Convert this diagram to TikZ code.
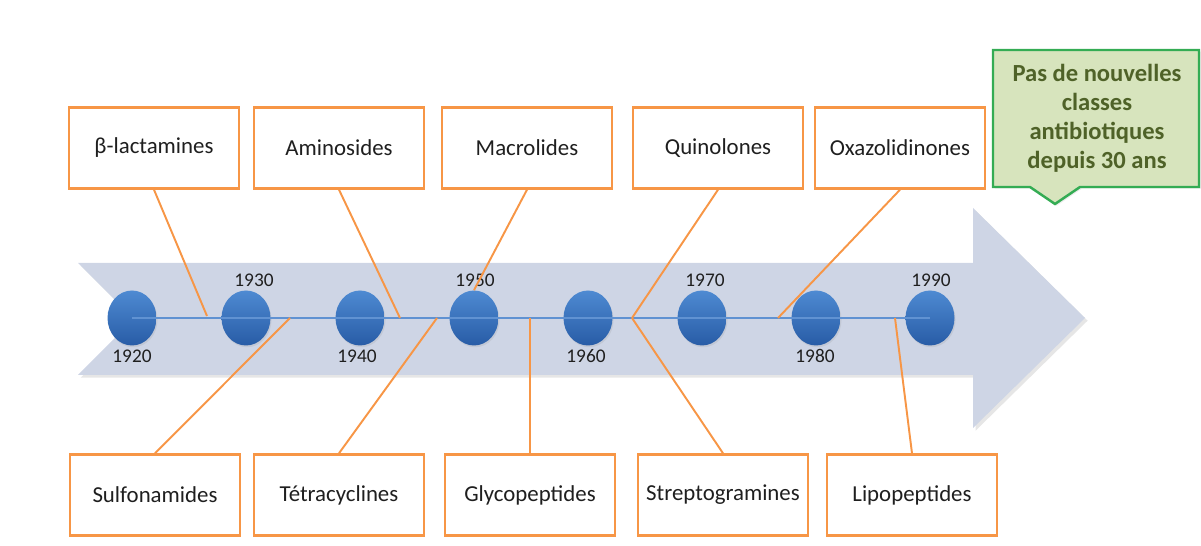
\documentclass[tikz,border=0pt]{standalone}
\usepackage{fontspec}
\setmainfont{Carlito}
\usepackage{xcolor}
\definecolor{ArrowBody}{RGB}{206,213,229}
\definecolor{BoxBorder}{RGB}{247,150,70}
\definecolor{DotTop}{RGB}{78,138,210}
\definecolor{DotBottom}{RGB}{40,92,166}
\definecolor{AxisLine}{RGB}{96,146,210}
\definecolor{NoteFill}{RGB}{215,228,189}
\definecolor{NoteBorder}{RGB}{52,172,84}
\definecolor{NoteText}{RGB}{79,98,40}
\colorlet{BoxText}{black!88}
\usetikzlibrary{positioning, shapes.geometric, shadows}

\begin{document}
\begin{tikzpicture}[x=0.02cm, y=-0.02cm,
  classbox/.style={draw=BoxBorder, line width=1.4pt, fill=white,
    minimum width=3.4cm, minimum height=1.62cm, text=BoxText,
    font=\fontsize{13}{15}\selectfont},
  link/.style={draw=BoxBorder, line width=1.1pt},
  dot/.style={ellipse, minimum width=0.98cm, minimum height=1.1cm,
    inner sep=0pt, top color=DotTop, bottom color=DotBottom,
    drop shadow={shadow xshift=0.6pt, shadow yshift=-1pt, opacity=0.15}},
  yearlabel/.style={inner sep=0pt, text=BoxText,
    font=\fontsize{11}{13}\selectfont}]

\useasboundingbox (0,0) rectangle (1201,546);

% La fleche du temps, avec son ombre
\fill[ArrowBody, drop shadow={shadow xshift=1.5pt, shadow yshift=-1.5pt, opacity=0.2}]
  (78,263) -- (973,263) -- (973,208) -- (1085,318) -- (973,428)
  -- (973,375) -- (78,375) -- (134,319) -- cycle;

\foreach \yr [count=\i from 0] in {1920,1930,...,1990}
  \node[dot] (c\yr) at ({132+114*\i},318) {};

\draw[AxisLine, line width=0.6pt] (c1920.center) -- (c1990.center);

\foreach \yr/\side/\dx in {1920/below/0, 1930/above/8, 1940/below/-3, 1950/above/1,
    1960/below/-2, 1970/above/3, 1980/below/-1, 1990/above/1}
  \node[yearlabel, \side=2pt of c\yr, xshift=\dx*0.02cm] (t\yr) {\yr};

% Classes au-dessus de la fleche
\node[classbox] (lact) at (154,148) {β-lactamines};
\node[classbox] (amino) at (339,148) {Aminosides};
\node[classbox] (macro) at (527,148) {Macrolides};
\node[classbox] (quino) at (718,148) {Quinolones};
\node[classbox] (oxaz) at (900,148) {Oxazolidinones};

% Classes au-dessous de la fleche
\node[classbox] (sulfo) at (155,495) {Sulfonamides};
\node[classbox] (tetra) at (339,495) {Tétracyclines};
\node[classbox] (glyco) at (530,495) {Glycopeptides};
\node[classbox] (strepto) at (723,495) {Streptogramines};
\node[classbox] (lipo) at (912,495) {Lipopeptides};

\coordinate (pLact) at (207,316);
\coordinate (pAmino) at (400,318);
\coordinate (pQuino) at (632,318);
\coordinate (pOxaz) at (778,318);
\coordinate (pSulfo) at (290,318);
\coordinate (pTetra) at (437,318);
\coordinate (pGlyco) at (530,318);
\coordinate (pLipo) at (895,318);

\draw[link] (lact.south) -- (pLact);
\draw[link] (amino.south) -- (pAmino);
\draw[link] (macro.south) -- (c1950.north);
\draw[link] (quino.south) -- (pQuino);
\draw[link] (oxaz.south) -- (pOxaz);
\draw[link] (sulfo.north) -- (pSulfo);
\draw[link] (tetra.north) -- (pTetra);
\draw[link] (glyco.north) -- (pGlyco);
\draw[link] (strepto.north) -- (pQuino);
\draw[link] (lipo.north) -- (pLipo);

% La bulle verte, pointe vers le bas
\coordinate (noteTip) at (1055,204);
\filldraw[fill=NoteFill, draw=NoteBorder, line width=1.4pt, line join=miter,
  drop shadow={shadow xshift=1pt, shadow yshift=-1pt, opacity=0.15}]
  (993,50) -- (1199,50) -- (1199,187) -- (1080,187) -- (noteTip)
  -- (1030,187) -- (993,187) -- cycle;
\node[align=center, text=NoteText, font=\bfseries\fontsize{14}{16.5}\selectfont]
  (note) at (1097,118.5) {Pas de nouvelles\\classes\\antibiotiques\\depuis 30 ans};

\end{tikzpicture}
\end{document}
